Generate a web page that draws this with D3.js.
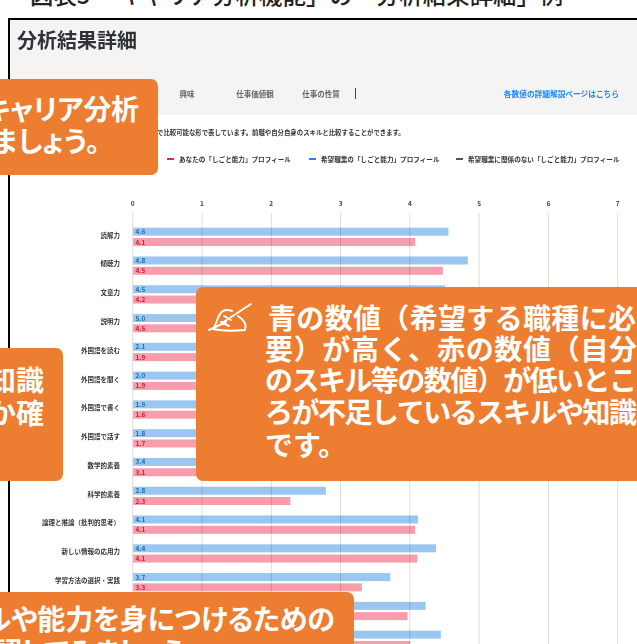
<!DOCTYPE html>
<html lang="ja"><head><meta charset="utf-8">
<style>html,body{margin:0;padding:0;background:#fff;overflow:hidden}svg{display:block}text{font-family:"Noto Sans CJK JP","Noto Sans",sans-serif}
#base{filter:blur(.3px)}#top text.p{font-feature-settings:"palt"}</style>
<script src="https://cdn.jsdelivr.net/npm/d3@7/dist/d3.min.js"></script></head><body>
<svg id="c" width="637" height="644"><g id="hdr"></g><g id="base"></g><g id="top"></g></svg>
<script>
const skills=["読解力","傾聴力","文章力","説明力","外国語を読む","外国語を聞く","外国語で書く","外国語で話す","数学的素養","科学的素養","論理と推論（批判的思考）","新しい情報の応用力","学習方法の選択・実践","",""];
const desiredValues=[4.55,4.83,4.5,5.0,2.1,2.0,1.9,1.8,3.4,2.78,4.11,4.37,3.71,4.22,4.44];
const selfValues=[4.07,4.47,4.2,4.5,1.9,1.9,1.6,1.7,3.1,2.27,4.07,4.1,3.3,3.96,4.0];
const desiredLabels=["4.6","4.8","4.5","5.0","2.1","2.0","1.9","1.8","3.4","2.8","4.1","4.4","3.7","4.2","4.4"];
const selfLabels=["4.1","4.5","4.2","4.5","1.9","1.9","1.6","1.7","3.1","2.3","4.1","4.1","3.3","4.0","4.0"];
const ticks=[0,1,2,3,4,5,6,7];
const tabs=["興味","仕事価値観","仕事の性質"];
const legendItems=["あなたの「しごと能力」プロフィール","希望職業の「しごと能力」プロフィール","希望職業に関係のない「しごと能力」プロフィール"];

const hdr=d3.select("#hdr"), svg=d3.select("#base"), top_=d3.select("#top");
const x=d3.scaleLinear().domain([0,7]).range([132.7,617.7]);
const y=d3.scaleBand().domain(d3.range(skills.length)).range([222.5,222.5+28.78*skills.length]);
const txt=(g,px,py,s,size,fill,anchor,weight)=>g.append("text").attr("x",px).attr("y",py).text(s).attr("font-size",size).attr("fill",fill).attr("text-anchor",anchor||"start").attr("font-weight",weight||400);

// page header
txt(hdr,30,3.5,"図表5 「キャリア分析機能」の「分析結果詳細」例",23.4,"#222","start",500);
hdr.append("rect").attr("x",9).attr("y",19).attr("width",640).attr("height",640).attr("fill","#fff").attr("stroke","#000").attr("stroke-width",2);
svg.append("rect").attr("x",10).attr("y",20).attr("width",627).attr("height",95).attr("fill","#f4f4f4");
txt(svg,17,48,"分析結果詳細",20,"#2f3337","start",700);
[187,255,321].forEach((p,i)=>txt(svg,p,97,tabs[i],7.5,"#666","middle",700));
svg.append("line").attr("x1",355.5).attr("x2",355.5).attr("y1",88).attr("y2",99).attr("stroke","#444");
txt(svg,619,97,"各数値の詳細解説ページはこちら",7.7,"#1a85ff","end",700);
txt(svg,157,135,"で比較可能な形で表しています。前職や自分自身のスキルと比較することができます。",6.4,"#333","start",700);
// legend
[[167,"#ee2244",179],[309,"#1a85ff",321],[456,"#555",468]].forEach((d,i)=>{
  svg.append("line").attr("x1",d[0]).attr("x2",d[0]+7).attr("y1",159).attr("y2",159).attr("stroke",d[1]).attr("stroke-width",2);
  txt(svg,d[2],162,legendItems[i],6.6,"#333","start",700);
});
// grid and axis
svg.append("g").selectAll("line").data(ticks).join("line")
 .attr("x1",d=>x(d)).attr("x2",d=>x(d)).attr("y1",213).attr("y2",644).attr("stroke","#dcdcdc").attr("stroke-width",1);
svg.append("g").selectAll("text").data(ticks).join("text")
 .attr("x",d=>x(d)).attr("y",206).attr("text-anchor","middle").attr("font-size",6.5).attr("font-weight",700).attr("fill","#444").text(d=>d);
// bars
const rows=svg.append("g").selectAll("g").data(d3.range(skills.length)).join("g").attr("transform",i=>`translate(0,${y(i)})`);
rows.append("text").attr("x",120).attr("y",15.2).attr("text-anchor","end").attr("font-size",6.5).attr("font-weight",700).attr("fill","#333").text(i=>skills[i]);
rows.append("rect").attr("x",x(0)+.5).attr("y",5.2).attr("height",8).attr("width",i=>x(desiredValues[i])-x(0)).attr("fill","#9ac6ef").style("mix-blend-mode","multiply");
rows.append("rect").attr("x",x(0)+.5).attr("y",15.5).attr("height",8).attr("width",i=>x(selfValues[i])-x(0)).attr("fill","#f79eac").style("mix-blend-mode","multiply");
rows.append("text").attr("x",135.5).attr("y",11.7).attr("font-size",6.5).attr("font-weight",700).attr("fill","#1f6fb5").text(i=>desiredLabels[i]);
rows.append("text").attr("x",135.5).attr("y",22).attr("font-size",6.5).attr("font-weight",700).attr("fill","#d91a3c").text(i=>selfLabels[i]);

// callouts
const box=(a,b,w,h)=>top_.append("rect").attr("x",a).attr("y",b).attr("width",w).attr("height",h).attr("rx",7).attr("fill","#ed7d31");
const call=(px,py,s,size,len)=>{const t=txt(top_,px,py,s,size,"#fff","start",700);if(len)t.attr("textLength",len).attr("lengthAdjust","spacing");return t;};
box(-10,79,168,96);
call(-16,120,"キャリア分析",28,155).classed("p",true);
call(-8,152,"ましょう。",28,108).classed("p",true);
box(-20,348,83,133);
call(-12,391,"知識",28);call(-12,424,"か確",28);
box(196,287,460,194);
call(268,329,"青の数値（希望する職種に必",28,368);
call(265,360,"要）が高く、赤の数値（自分",28,372);
call(265,391,"のスキル等の数値）が低いとこ",28,372);
call(265,423,"ろが不足しているスキルや知識",28,372);
call(265,456,"です。",28);
box(-20,592,374,70);
call(-16,630,"ルや能力を身につけるための",28,351).classed("p",true);
call(-6,663,"認してみましょう",28,191).classed("p",true);
// writing-hand icon
top_.append("path").attr("fill","none").attr("stroke","#fff").attr("stroke-width",2).attr("stroke-linejoin","round").attr("stroke-linecap","round")
 .attr("d","M209 330 L226 322 M222 323 L251 304 M232 311 C224 308 220 312 218 318 C216 324 214 328 212 329 C222 331 236 331 245 330 C247 325 244 320 238 316 M224 316 L231 320 M221 322 L229 326");
</script></body></html>
